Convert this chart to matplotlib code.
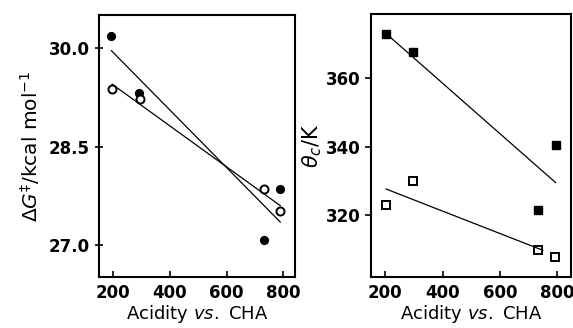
import numpy as np
import matplotlib
matplotlib.use('Agg')
import matplotlib.pyplot as plt

# left panel: activation free energy
dg_filled_x = [194, 292, 733, 789]
dg_filled_y = [30.18, 29.32, 27.08, 27.86]
dg_open_x = [196, 294, 732, 789]
dg_open_y = [29.38, 29.22, 27.85, 27.53]

# right panel: coalescence temperature
tc_filled_x = [203, 296, 733, 794]
tc_filled_y = [373.0, 367.8, 321.5, 340.5]
tc_open_x = [203, 296, 734, 793]
tc_open_y = [323.0, 330.1, 309.8, 307.8]
tc_open_span = [203, 750]

plt.rcParams['font.family'] = 'DejaVu Sans'
plt.rcParams['mathtext.fontset'] = 'dejavusans'


def fit_line(ax, x, y, span=None):
    k, b = np.polyfit(x, y, 1)
    if span is None:
        span = [min(x), max(x)]
    xs = np.array(span)
    ax.plot(xs, k * xs + b, color='black', lw=0.9)


def style(ax):
    for s in ax.spines.values():
        s.set_linewidth(1.5)
    ax.tick_params(axis='x', direction='in', length=4, width=1.2, labelsize=12, pad=5)
    ax.tick_params(axis='y', direction='inout', length=6, width=1.2, labelsize=12)
    for t in ax.get_xticklabels() + ax.get_yticklabels():
        t.set_fontweight('bold')


fig = plt.figure(figsize=(5.73, 3.28), dpi=100)
W, H = 573, 328
ax1 = fig.add_axes([99 / W, 1 - 277 / H, 196 / W, 262 / H])
ax2 = fig.add_axes([371 / W, 1 - 277 / H, 200 / W, 263 / H])

ax1.plot(dg_filled_x, dg_filled_y, 'o', color='black', ms=5.6)
ax1.plot(dg_open_x, dg_open_y, 'o', mfc='white', mec='black', mew=1.4, ms=5.8)
fit_line(ax1, dg_filled_x, dg_filled_y)
fit_line(ax1, dg_open_x, dg_open_y)
ax1.set_xlim(150, 841)
ax1.set_ylim(26.52, 30.5)
ax1.set_xticks([200, 400, 600, 800])
ax1.set_yticks([27.0, 28.5, 30.0])
ax1.set_yticklabels(['27.0', '28.5', '30.0'])
ax1.set_xlabel(r'Acidity $\it{vs.}$ CHA', fontsize=13, labelpad=1)
ax1.set_ylabel(r'$\Delta G^{\ddag}$/kcal mol$^{-1}$', fontsize=14.5, labelpad=5)
style(ax1)

ax2.plot(tc_filled_x, tc_filled_y, 's', color='black', ms=5.2)
ax2.plot(tc_open_x, tc_open_y, 's', mfc='white', mec='black', mew=1.4, ms=5.2)
fit_line(ax2, tc_filled_x, tc_filled_y)
fit_line(ax2, tc_open_x, tc_open_y, tc_open_span)
ax2.set_xlim(150, 848)
ax2.set_ylim(301.9, 378.8)
ax2.set_xticks([200, 400, 600, 800])
ax2.set_yticks([320, 340, 360])
ax2.set_xlabel(r'Acidity $\it{vs.}$ CHA', fontsize=13, labelpad=1)
ax2.set_ylabel(r'$\theta_c$/K', fontsize=15, labelpad=1)
style(ax2)
ax2.tick_params(axis='y', direction='out', length=4)

fig.savefig('out.png', dpi=100)
